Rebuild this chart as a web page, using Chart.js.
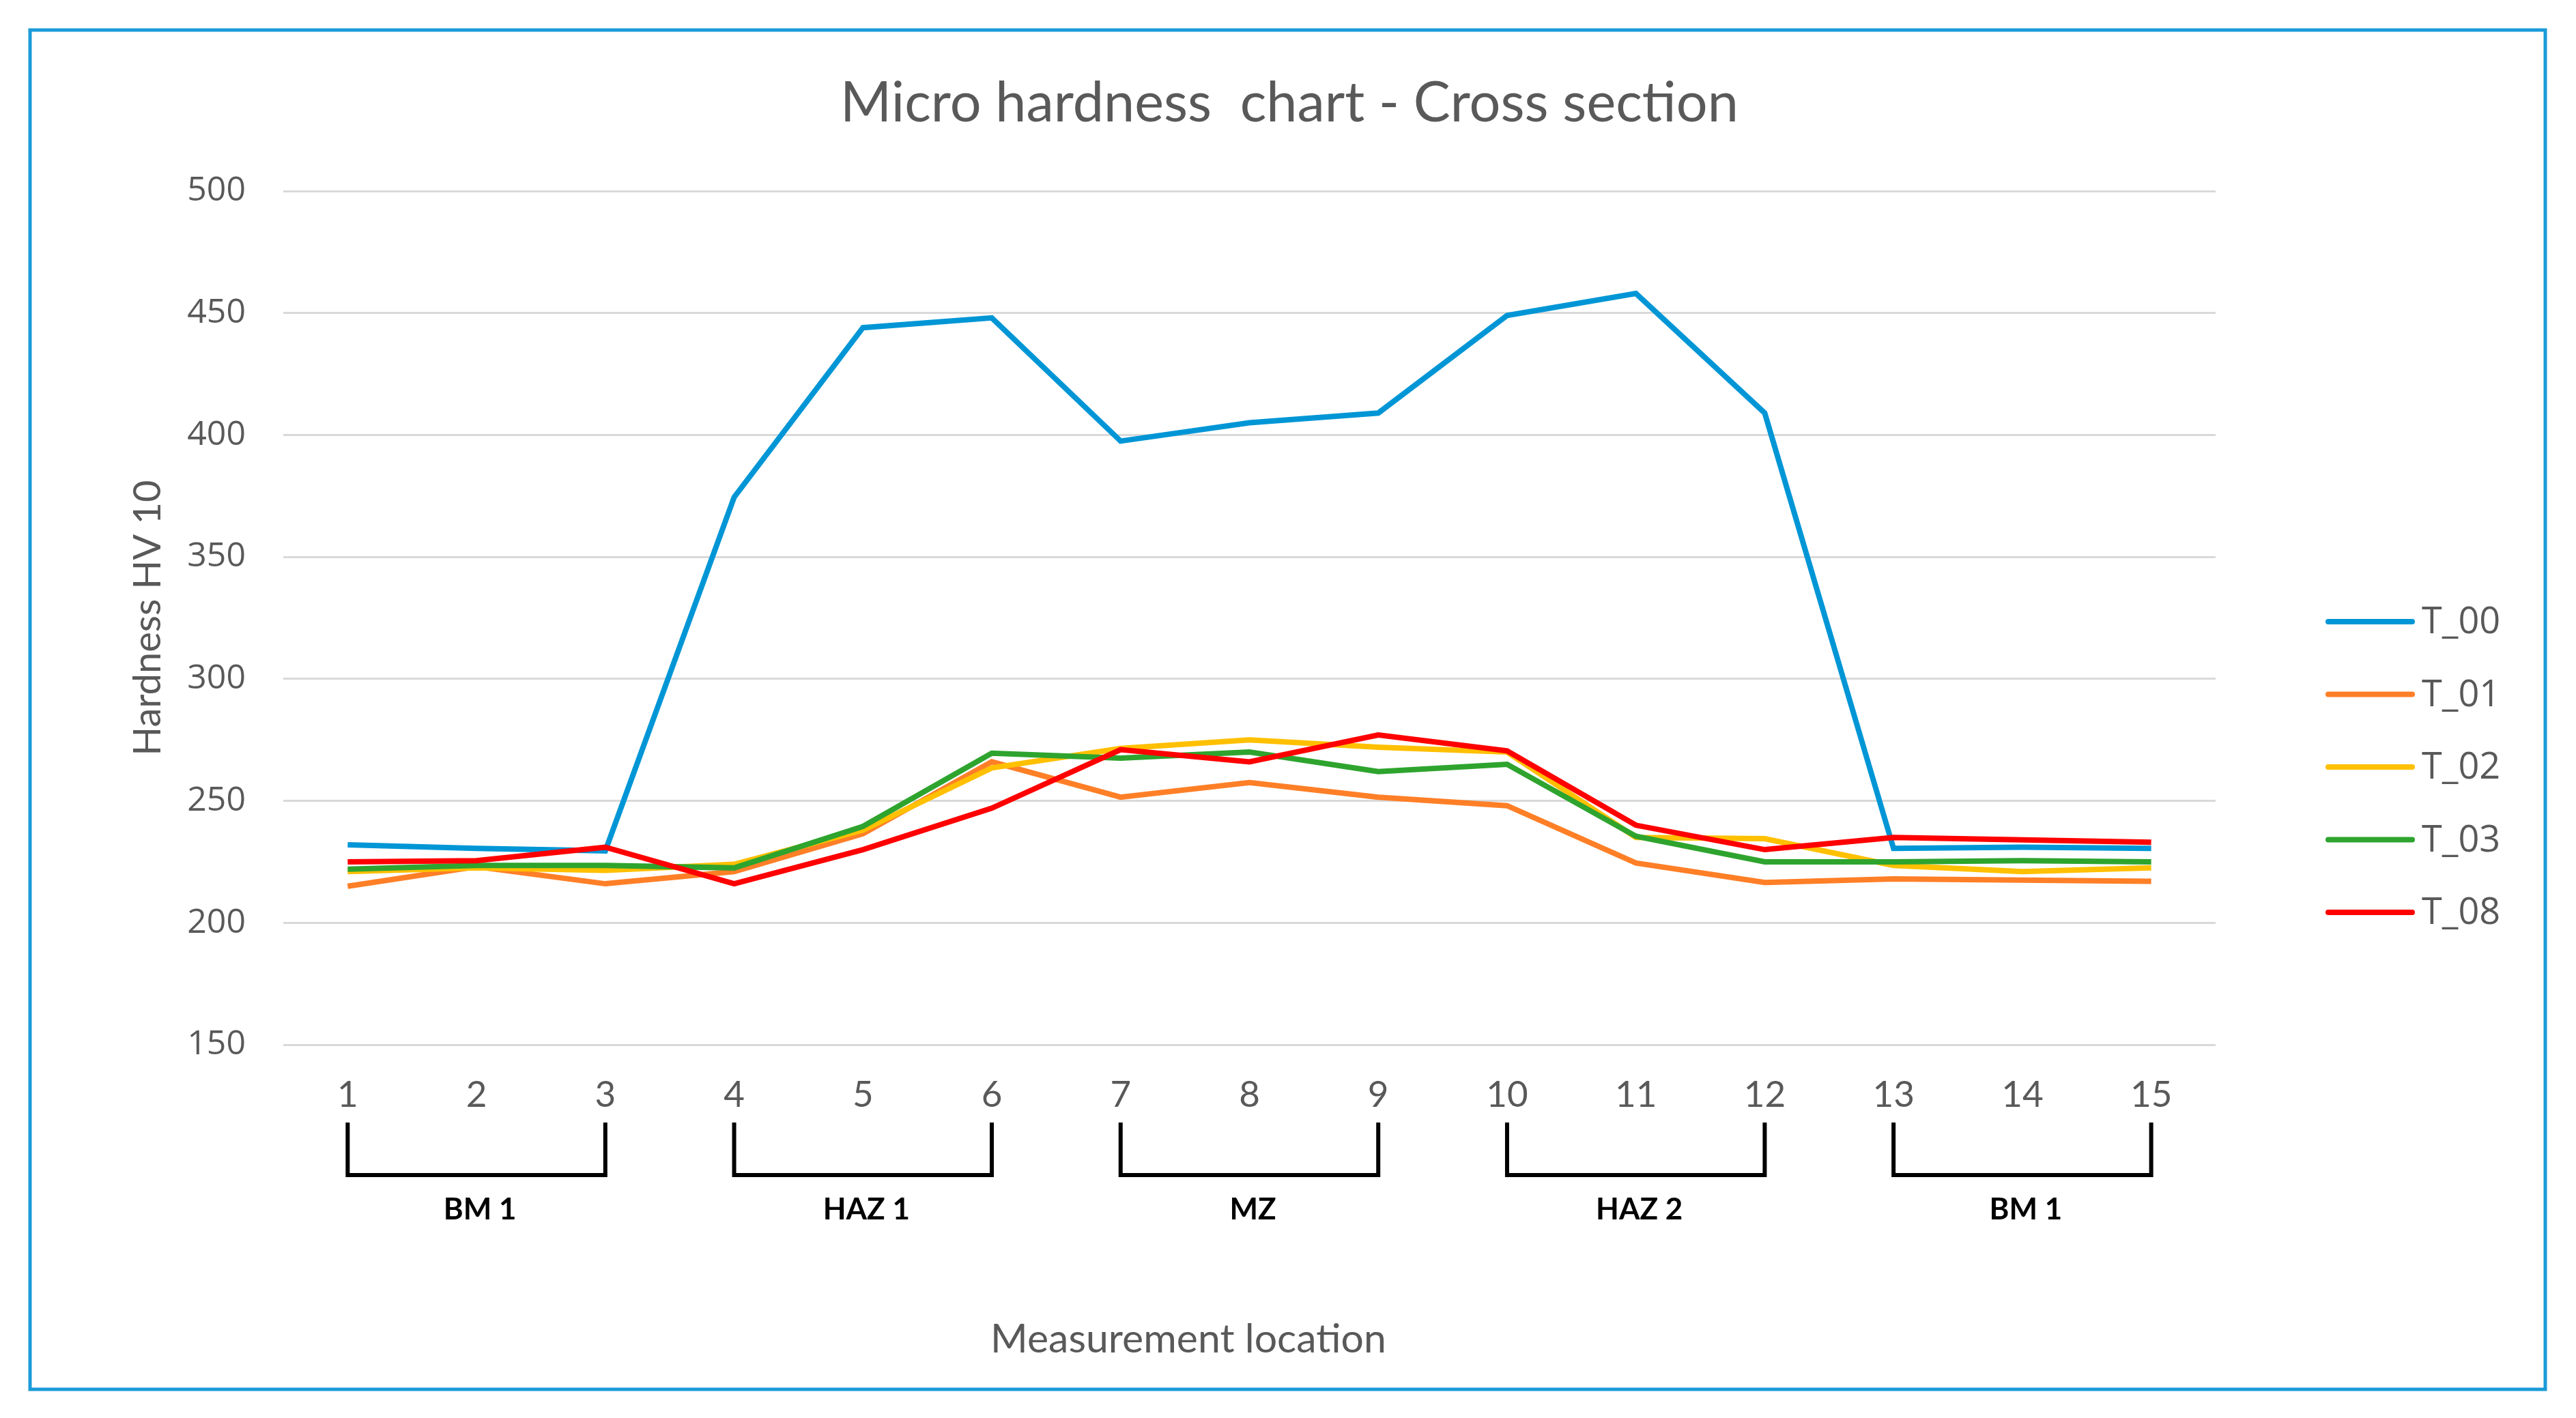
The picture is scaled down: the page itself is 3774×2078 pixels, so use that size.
<!DOCTYPE html>
<html>
<head>
<meta charset="utf-8">
<script src="https://cdn.jsdelivr.net/npm/chart.js@4.4.1/dist/chart.umd.min.js"></script>
<style>
  html, body { margin: 0; padding: 0; background: #ffffff; }
  #c { display: block; }
</style>
</head>
<body>
<canvas id="c" width="3774" height="2078" style="width:3774px;height:2078px"></canvas>
<script>
// ---- data ----
const categories = ['1','2','3','4','5','6','7','8','9','10','11','12','13','14','15'];
const seriesNames = ['T_00','T_01','T_02','T_03','T_08'];
const T_00 = [232, 230.5, 229.5, 374.5, 444, 448, 397.5, 405, 409, 449, 458, 409, 230.5, 231, 230.5];
const T_01 = [215, 223, 216, 221, 236.5, 266, 251.5, 257.5, 251.5, 248, 224.5, 216.5, 218, 217.5, 217];
const T_02 = [221, 222.5, 221.5, 224, 238, 263.5, 271.5, 275, 272, 270, 235, 234.5, 223.5, 221, 222.5];
const T_03 = [222, 223.5, 223.5, 222.5, 239.5, 269.5, 267.5, 270, 262, 265, 235.5, 225, 225, 225.5, 225];
const T_08 = [225, 225.5, 231, 216, 230, 247, 271, 266, 277, 270.5, 240, 230, 235, 234, 233];
const yTicks = { min: 150, max: 500, step: 50 };
const zoneNames = ['BM 1', 'HAZ 1', 'MZ', 'HAZ 2', 'BM 1'];
const zoneStart = ['1', '4', '7', '10', '13'];
const zoneEnd   = ['3', '6', '9', '12', '15'];
const chartTitle = 'Micro hardness  chart - Cross section';
const yTitle = 'Hardness HV 10';
const xTitle = 'Measurement location';

// ---- styles ----
const colors = ['#0096d6', '#ff7f27', '#ffc000', '#2ea42e', '#ff0000'];
const seriesData = [T_00, T_01, T_02, T_03, T_08];
const GRAY = '#595959';

const datasets = seriesData.map((d, i) => ({
  label: seriesNames[i],
  data: d,
  borderColor: colors[i],
  backgroundColor: colors[i],
  borderWidth: 8,
  pointRadius: 0,
  pointHoverRadius: 0,
  tension: 0,
  fill: false,
  order: seriesData.length - i   // later series drawn on top
}));

const decorPlugin = {
  id: 'decor',
  beforeDraw(chart) {
    const ctx = chart.ctx;
    ctx.save();
    ctx.fillStyle = '#ffffff';
    ctx.fillRect(0, 0, chart.width, chart.height);
    ctx.restore();
  },
  afterDraw(chart) {
    const ctx = chart.ctx;
    const xs = chart.scales.x;
    ctx.save();
    // chart title
    ctx.font = '81px Lato';
    ctx.fillStyle = GRAY;
    ctx.textAlign = 'center';
    ctx.textBaseline = 'middle';
    ctx.fillText(chartTitle, 1889, 152);
    // zone brackets
    ctx.strokeStyle = '#000000';
    ctx.lineWidth = 6;
    ctx.lineCap = 'butt';
    ctx.lineJoin = 'miter';
    const topY = 1645, botY = 1722;
    ctx.font = 'bold 44px Lato';
    ctx.fillStyle = '#000000';
    zoneNames.forEach((name, i) => {
      const x1 = xs.getPixelForValue(categories.indexOf(zoneStart[i]));
      const x2 = xs.getPixelForValue(categories.indexOf(zoneEnd[i]));
      ctx.beginPath();
      ctx.moveTo(x1, topY);
      ctx.lineTo(x1, botY);
      ctx.lineTo(x2, botY);
      ctx.lineTo(x2, topY);
      ctx.stroke();
      ctx.fillText(name, (x1 + x2) / 2 + 5, 1773);
    });
    // x axis title
    ctx.font = '59px Lato';
    ctx.fillStyle = GRAY;
    ctx.fillText(xTitle, 1741, 1963);
    // legend
    chart.data.datasets.forEach((ds, i) => {
      const y = 911 + i * 106.5;
      ctx.strokeStyle = ds.borderColor;
      ctx.lineWidth = 8;
      ctx.lineCap = 'round';
      ctx.beginPath();
      ctx.moveTo(3411, y);
      ctx.lineTo(3534, y);
      ctx.stroke();
      ctx.font = '54px "Open Sans"';
      ctx.fillStyle = GRAY;
      ctx.textAlign = 'left';
      ctx.textBaseline = 'middle';
      ctx.fillText(ds.label, 3548, y + 2);
    });
    // outer border
    ctx.strokeStyle = '#1a9bd8';
    ctx.lineWidth = 5;
    ctx.lineCap = 'butt';
    ctx.strokeRect(44, 44, 3729 - 44, 2036 - 44);
    ctx.restore();
  }
};

new Chart(document.getElementById('c'), {
  type: 'line',
  data: { labels: categories, datasets },
  options: {
    responsive: false,
    animation: false,
    devicePixelRatio: 1,
    layout: { padding: { left: 0, right: 528, top: 280, bottom: 0 } },
    plugins: {
      legend: { display: false },
      tooltip: { enabled: false },
      title: { display: false }
    },
    scales: {
      x: {
        type: 'category',
        offset: true,
        grid: { display: false, drawTicks: false },
        border: { display: false },
        ticks: {
          color: GRAY,
          font: { family: 'Lato', size: 53 },
          padding: 42,
          maxRotation: 0,
          autoSkip: false
        },
        afterFit(scale) { scale.height = 547; }
      },
      y: {
        min: yTicks.min,
        max: yTicks.max,
        grid: { color: '#d9d9d9', lineWidth: 3, drawTicks: false },
        border: { display: false },
        ticks: {
          stepSize: yTicks.step,
          color: GRAY,
          font: { family: 'Open Sans', size: 50 },
          padding: 55
        },
        title: {
          display: true,
          text: yTitle,
          color: GRAY,
          font: { family: 'Lato', size: 56, lineHeight: 1.2 },
          padding: { top: 183, bottom: 0 }
        },
        afterFit(scale) { scale.width = 415; }
      }
    }
  },
  plugins: [decorPlugin]
});
</script>
</body>
</html>
